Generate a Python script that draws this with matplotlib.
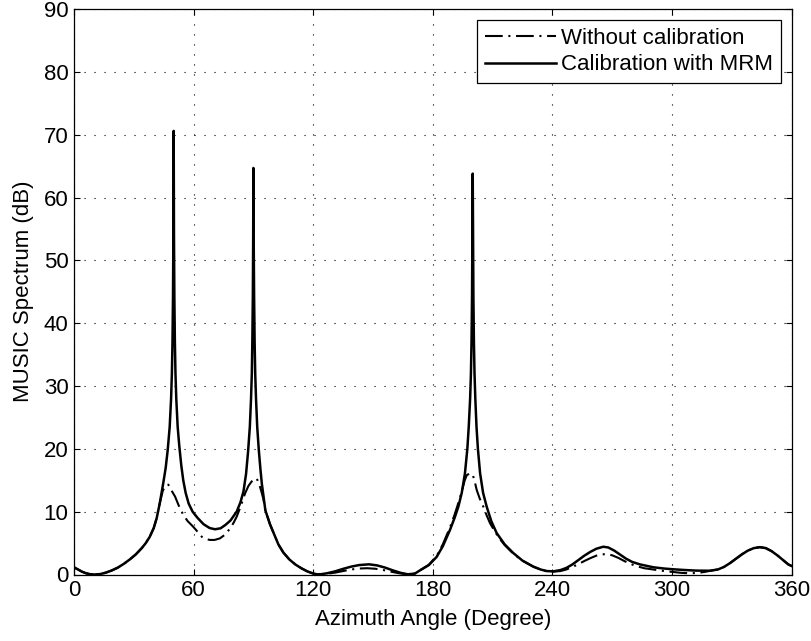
import matplotlib
matplotlib.use("Agg")
import matplotlib.pyplot as plt

plt.rcParams['font.family'] = ['Liberation Sans', 'DejaVu Sans']

# Calibration with MRM (solid)
mrm_angle = [0, 2, 4, 6, 8, 10.5, 13, 16, 19, 22, 25, 28, 31, 34, 36, 38, 40,
             41.5, 43, 44.8, 46, 47, 48, 48.7, 49.1, 49.4, 49.65, 49.85, 50.0,
             50.15, 50.35, 50.6, 50.9, 51.3, 52, 52.8, 53.8, 54.8, 56, 57.5, 59.5,
             62, 65, 68, 70.7, 73.5, 76, 78.5, 81.6, 83.5, 85, 86.3, 87.3, 88.2,
             88.8, 89.2, 89.45, 89.7, 89.88, 90.0, 90.12, 90.35, 90.6, 90.9, 91.3,
             91.9, 92.7, 93.5, 94.2, 96, 98.3, 100.5, 102.5, 105, 108, 111, 114,
             117, 120, 122, 124, 127, 131, 135, 139, 143, 148, 152, 156, 160, 164,
             167.5, 171, 174, 178, 181.9, 185, 188.6, 191, 192.8, 194.5, 196.1,
             197.3, 198, 198.7, 199.1, 199.4, 199.65, 199.85, 200.0, 200.15,
             200.35, 200.6, 200.9, 201.3, 201.9, 202.6, 203.7, 205.2, 207, 209.3,
             212, 216, 220.4, 225, 230.4, 234, 237, 240.4, 244, 247, 250, 253, 256,
             259, 262, 265.5, 268, 271, 274, 277, 280, 284, 290.6, 296, 300.6, 306,
             312, 319, 323, 326, 329, 332, 335, 338, 341, 344, 347, 350, 353, 356,
             358.3, 360]
mrm_db = [1.15, 0.8, 0.45, 0.2, 0.05, 0.0, 0.06, 0.3, 0.65, 1.1, 1.7, 2.4, 3.2,
          4.2, 5.0, 6.0, 7.4, 9.0, 11.3, 14.6, 17, 19.8, 23.5, 28, 32, 37, 44,
          54, 70.6, 54, 44, 37, 32, 28, 23.5, 20.5, 17.4, 15, 13, 11.3, 10, 9.0,
          8.0, 7.4, 7.2, 7.35, 7.9, 8.6, 10, 11.5, 13.2, 16, 19.5, 23.5, 28, 32,
          37, 44, 54, 64.7, 54, 44, 37, 32, 28, 23.5, 19.8, 16.8, 14.5, 10.2,
          8.0, 6.3, 4.8, 3.5, 2.4, 1.6, 1.0, 0.5, 0.15, 0.03, 0.05, 0.2, 0.5,
          0.9, 1.25, 1.5, 1.62, 1.45, 1.1, 0.65, 0.25, 0.03, 0.15, 0.75, 1.5,
          2.8, 4.5, 7.1, 9.1, 10.8, 13, 16.1, 20, 23.5, 28, 32, 37, 44, 54, 63.8,
          54, 44, 37, 32, 28, 23.5, 20, 16.1, 13, 10.8, 8.5, 6.6, 4.8, 3.4, 2.2,
          1.25, 0.8, 0.55, 0.5, 0.7, 1.05, 1.6, 2.3, 3.0, 3.6, 4.1, 4.42, 4.3,
          3.8, 3.15, 2.5, 2.0, 1.6, 1.15, 0.95, 0.83, 0.72, 0.62, 0.6, 0.8, 1.2,
          1.8, 2.5, 3.2, 3.8, 4.2, 4.35, 4.2, 3.7, 3.0, 2.2, 1.6, 1.35]

# Without calibration (dash-dot)
raw_angle = [0, 2, 4, 6, 8, 10.5, 13, 16, 19, 22, 25, 28, 31, 34, 36, 38, 40,
             41.5, 43, 44.5, 45.8, 47.3, 48.5, 50.7, 52.5, 54.8, 57, 59.8, 62,
             64.1, 66, 68.2, 70.5, 73.2, 76, 78.3, 80, 81.6, 83.8, 85.8, 87.5,
             89.1, 90.5, 91.6, 92.8, 94, 95, 96, 98.3, 100.5, 102.5, 105, 108, 111,
             114, 117, 120, 122, 124, 127, 131, 135, 139, 143, 147, 151, 155, 159,
             163, 167.5, 171, 174, 178, 182, 185, 188.6, 191, 192.8, 194.5, 196,
             197, 198.5, 200, 201, 202, 203.5, 205.3, 207, 208.7, 211, 213, 216,
             220.4, 225, 230.4, 234, 237, 240.4, 244, 247, 250, 253, 256, 259, 262,
             265, 267.2, 270, 273, 276, 279, 282, 286, 290.6, 296, 301, 305, 309,
             313, 317, 320, 323, 326, 329, 332, 335, 338, 341, 344, 347, 350, 353,
             356, 358.3, 360]
raw_db = [1.15, 0.8, 0.45, 0.2, 0.05, 0.0, 0.06, 0.3, 0.65, 1.1, 1.7, 2.4, 3.2,
          4.2, 5.0, 6.0, 7.4, 9.0, 11.3, 13.3, 14.1, 14.3, 13.6, 12.4, 11, 9.5,
          8.5, 7.6, 6.8, 6.0, 5.65, 5.5, 5.5, 5.75, 6.4, 7.35, 8.2, 9.2, 11,
          12.9, 14.1, 14.8, 15.2, 15.3, 14.5, 13.2, 12.0, 10.2, 8.0, 6.3, 4.8,
          3.5, 2.4, 1.6, 1.0, 0.5, 0.15, 0.03, 0.03, 0.12, 0.3, 0.55, 0.8, 0.95,
          1.0, 0.92, 0.72, 0.45, 0.2, 0.03, 0.15, 0.75, 1.55, 3.0, 4.8, 7.5,
          9.6, 11.4, 13.2, 15, 15.8, 16.1, 15.9, 14.8, 13.45, 12.1, 10.8, 9.4,
          8.15, 6.9, 5.9, 4.7, 3.3, 2.2, 1.25, 0.8, 0.55, 0.45, 0.55, 0.8, 1.2,
          1.65, 2.15, 2.6, 3.0, 3.2, 3.26, 3.05, 2.65, 2.15, 1.7, 1.35, 1.0, 0.8,
          0.55, 0.38, 0.25, 0.2, 0.25, 0.45, 0.65, 0.8, 1.2, 1.8, 2.5, 3.2, 3.8,
          4.2, 4.35, 4.2, 3.7, 3.0, 2.2, 1.6, 1.35]

series_labels = ["Without calibration", "Calibration with MRM"]
x_ticks = [0, 60, 120, 180, 240, 300, 360]
y_ticks = [0, 10, 20, 30, 40, 50, 60, 70, 80, 90]

fig = plt.figure(figsize=(8.12, 6.41), dpi=100)
ax = fig.add_axes([74 / 812, 1 - 574.5 / 641, (791.7 - 74) / 812, (574.5 - 9) / 641])

ax.plot(raw_angle, raw_db, color='black', lw=1.5,
        linestyle=(0, (8.5, 2.7, 1, 2.7)), label=series_labels[0])
ax.plot(mrm_angle, mrm_db, color='black', lw=1.8, linestyle='-',
        label=series_labels[1])

ax.set_xlim(0, 360)
ax.set_ylim(0, 90)
ax.set_xticks(x_ticks)
ax.set_yticks(y_ticks)
fs = 16
ax.tick_params(direction='in', top=True, right=True, length=4.5, width=0.8,
               labelsize=fs, pad=4)
for s in ax.spines.values():
    s.set_linewidth(0.9)
ax.grid(True, color='black', linewidth=0.8, linestyle=(0, (1, 8)))
ax.set_xlabel("Azimuth Angle (Degree)", fontsize=fs, labelpad=6)
ax.set_ylabel("MUSIC Spectrum (dB)", fontsize=fs, labelpad=7)

leg = ax.legend(loc='upper right', fontsize=fs, frameon=True, fancybox=False,
                edgecolor='black', framealpha=1, handlelength=3.2,
                handletextpad=0.2, borderaxespad=0.5, borderpad=0.35,
                labelspacing=0.25)
leg.get_frame().set_linewidth(0.9)

fig.savefig("out.png", dpi=100)
